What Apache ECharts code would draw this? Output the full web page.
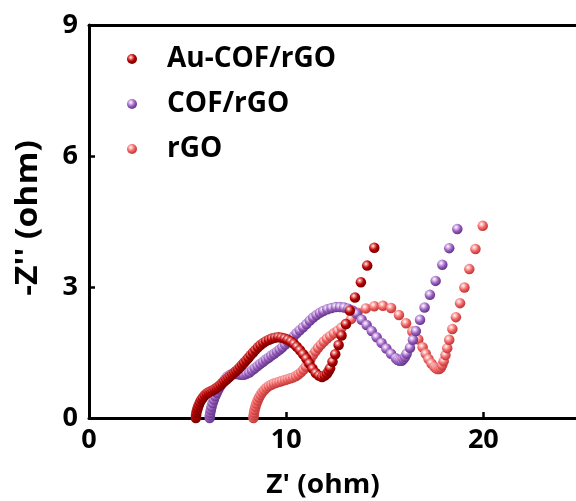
<!DOCTYPE html>
<html>
<head>
<meta charset="utf-8">
<script src="https://cdn.jsdelivr.net/npm/echarts@6/dist/echarts.min.js"></script>
<style>
  html, body { margin: 0; padding: 0; background: #ffffff; }
  #chart { width: 576px; height: 501px; }
</style>
</head>
<body>
<div id="chart"></div>
<script>
// Nyquist plots: Z' (ohm) vs -Z'' (ohm)
const seriesNames = ['Au-COF/rGO', 'COF/rGO', 'rGO'];

const auCofRgo = [
  [5.42,0.00],[5.43,0.06],[5.45,0.12],[5.48,0.18],[5.52,0.24],[5.57,0.30],[5.63,0.36],[5.70,0.42],
  [5.78,0.47],[5.87,0.52],[5.97,0.56],[6.07,0.59],[6.17,0.61],[6.27,0.63],[6.37,0.66],[6.47,0.69],
  [6.57,0.72],[6.67,0.76],[6.77,0.80],[6.87,0.84],[6.97,0.88],[7.07,0.92],[7.17,0.96],[7.27,1.00],
  [7.37,1.04],[7.47,1.08],[7.57,1.12],[7.67,1.17],[7.77,1.22],[7.87,1.27],[7.98,1.32],[8.09,1.38],
  [8.20,1.44],[8.32,1.50],[8.44,1.56],[8.57,1.62],[8.70,1.67],[8.84,1.72],[8.98,1.76],[9.13,1.79],
  [9.28,1.82],[9.44,1.84],[9.60,1.85],[9.76,1.84],[9.92,1.82],[10.08,1.79],[10.24,1.75],[10.39,1.70],
  [10.54,1.63],[10.70,1.55],[10.86,1.46],[11.02,1.36],[11.18,1.25],[11.34,1.13],[11.50,1.03],[11.66,0.97],
  [11.82,0.94],[11.96,0.97],[12.07,1.02],[12.16,1.08],[12.23,1.14],[12.35,1.29],[12.49,1.46],[12.66,1.67],
  [12.81,1.89],[13.03,2.15],[13.23,2.46],[13.49,2.76],[13.79,3.11],[14.11,3.49],[14.47,3.90]
];

const cofRgo = [
  [6.12,0.00],[6.13,0.06],[6.15,0.12],[6.18,0.19],[6.22,0.26],[6.27,0.34],[6.33,0.42],[6.40,0.50],
  [6.48,0.58],[6.57,0.66],[6.67,0.74],[6.78,0.82],[6.90,0.89],[7.02,0.95],[7.15,0.99],[7.29,1.01],
  [7.43,1.01],[7.57,1.00],[7.71,0.99],[7.85,0.99],[7.99,1.01],[8.13,1.04],[8.27,1.09],[8.41,1.14],
  [8.55,1.19],[8.69,1.24],[8.83,1.29],[8.97,1.34],[9.11,1.38],[9.25,1.43],[9.39,1.47],[9.53,1.52],
  [9.67,1.57],[9.81,1.62],[9.95,1.68],[10.09,1.74],[10.23,1.80],[10.38,1.87],[10.53,1.94],[10.69,2.01],
  [10.86,2.08],[11.03,2.15],[11.20,2.23],[11.37,2.30],[11.54,2.36],[11.71,2.41],[11.88,2.45],[12.09,2.49],
  [12.30,2.52],[12.52,2.54],[12.73,2.54],[12.94,2.53],[13.15,2.50],[13.36,2.46],[13.57,2.39],[13.83,2.25],
  [14.08,2.13],[14.34,1.99],[14.59,1.85],[14.84,1.72],[15.08,1.59],[15.32,1.47],[15.56,1.37],[15.66,1.33],
  [15.76,1.31],[15.86,1.31],[15.95,1.35],[16.03,1.40],[16.11,1.47],[16.28,1.61],[16.43,1.79],[16.58,1.99],
  [16.79,2.25],[17.02,2.53],[17.29,2.82],[17.58,3.14],[17.92,3.51],[18.27,3.89],[18.68,4.33]
];

const rgo = [
  [8.34,0.00],[8.35,0.06],[8.37,0.12],[8.40,0.19],[8.44,0.26],[8.49,0.33],[8.55,0.40],[8.62,0.47],
  [8.70,0.53],[8.79,0.59],[8.89,0.64],[9.00,0.69],[9.12,0.73],[9.25,0.76],[9.38,0.79],[9.52,0.81],
  [9.66,0.83],[9.80,0.85],[9.94,0.87],[10.08,0.89],[10.22,0.91],[10.36,0.93],[10.50,0.96],[10.63,1.00],
  [10.76,1.05],[10.88,1.11],[11.00,1.18],[11.12,1.27],[11.24,1.36],[11.36,1.45],[11.49,1.53],[11.62,1.61],
  [11.76,1.68],[11.91,1.75],[12.07,1.82],[12.24,1.88],[12.42,1.94],[12.61,2.00],[12.81,2.07],[13.04,2.16],
  [13.30,2.27],[13.62,2.41],[14.04,2.51],[14.47,2.56],[14.91,2.57],[15.32,2.52],[15.72,2.36],[16.08,2.17],
  [16.40,1.98],[16.70,1.80],[16.92,1.62],[17.08,1.47],[17.22,1.35],[17.37,1.25],[17.52,1.17],[17.60,1.14],
  [17.68,1.12],[17.76,1.12],[17.84,1.15],[17.91,1.21],[17.99,1.30],[18.08,1.44],[18.17,1.60],[18.27,1.79],
  [18.43,2.04],[18.61,2.31],[18.82,2.63],[19.04,2.99],[19.29,3.41],[19.60,3.87],[19.97,4.40]
];

const xTicks = [0, 10, 20];
const yTicks = [0, 3, 6, 9];

const FONT = '"Open Sans", "Noto Sans", sans-serif';

// shaded sphere look for every marker
function ball(light, base, dark) {
  return {
    type: 'radial', x: 0.38, y: 0.34, r: 0.62,
    colorStops: [
      { offset: 0, color: '#ffffff' },
      { offset: 0.28, color: light },
      { offset: 0.62, color: base },
      { offset: 1, color: dark }
    ]
  };
}

const palette = {
  'Au-COF/rGO': ball('#e87070', '#b60000', '#7d0000'),
  'COF/rGO': ball('#d4b6e8', '#9a5fc0', '#6b3b8e'),
  'rGO': ball('#fbb4b4', '#f06262', '#c43c3c')
};

const chart = echarts.init(document.getElementById('chart'), null, { renderer: 'canvas' });

function scatter(name, data) {
  return {
    name: name,
    type: 'scatter',
    data: data,
    symbol: 'circle',
    symbolSize: 10.5,
    itemStyle: { color: palette[name], opacity: 1 },
    emphasis: { disabled: true },
    z: 3
  };
}

const axisLineStyle = { color: '#000', width: 3 };

chart.setOption({
  animation: false,
  backgroundColor: '#ffffff',
  textStyle: { fontFamily: FONT },
  grid: { left: 89, right: 0, top: 25, bottom: 83, containLabel: false },
  legend: {
    orient: 'vertical',
    left: 127,
    top: 44,
    padding: 0,
    data: seriesNames,
    icon: 'circle',
    itemWidth: 10,
    itemHeight: 10,
    itemGap: 15,
    selectedMode: false,
    textStyle: {
      fontFamily: FONT, fontSize: 28, fontWeight: 'bold', color: '#000',
      lineHeight: 30, padding: [0, 0, 0, 25]
    }
  },
  xAxis: [
    {
      type: 'value', min: 0, max: 24.7, interval: 10,
      axisLine: { show: true, onZero: false, lineStyle: axisLineStyle },
      axisTick: { show: true, inside: true, length: 6, lineStyle: { color: '#000', width: 2.5 } },
      axisLabel: {
        show: true, margin: 9, color: '#000', fontFamily: FONT, fontSize: 27, fontWeight: 'bold',
        showMaxLabel: false,
        formatter: v => (xTicks.indexOf(v) >= 0 ? String(v) : '')
      },
      splitLine: { show: false }
    },
    {
      type: 'value', min: 0, max: 24.7, position: 'top',
      axisLine: { show: true, onZero: false, lineStyle: axisLineStyle },
      axisTick: { show: false }, axisLabel: { show: false }, splitLine: { show: false }
    }
  ],
  yAxis: {
    type: 'value', min: 0, max: 9, interval: 3,
    axisLine: { show: true, onZero: false, lineStyle: axisLineStyle },
    axisTick: { show: true, inside: true, length: 6, lineStyle: { color: '#000', width: 2.5 } },
    axisLabel: {
      show: true, margin: 11, color: '#000', fontFamily: FONT, fontSize: 27, fontWeight: 'bold',
      formatter: v => (yTicks.indexOf(v) >= 0 ? String(v) : '')
    },
    splitLine: { show: false }
  },
  graphic: [
    {
      type: 'text', x: 323, y: 485, scaleX: 1.04,
      style: { text: "Z' (ohm)", fill: '#000', font: 'bold 27px ' + FONT, align: 'center', verticalAlign: 'middle' }
    },
    {
      type: 'text', x: 28, y: 218, rotation: Math.PI / 2, scaleX: 1.12,
      style: { text: "-Z'' (ohm)", fill: '#000', font: 'bold 30px ' + FONT, align: 'center', verticalAlign: 'middle' }
    }
  ],
  series: [
    scatter('rGO', rgo),
    scatter('COF/rGO', cofRgo),
    scatter('Au-COF/rGO', auCofRgo)
  ]
});
</script>
</body>
</html>
